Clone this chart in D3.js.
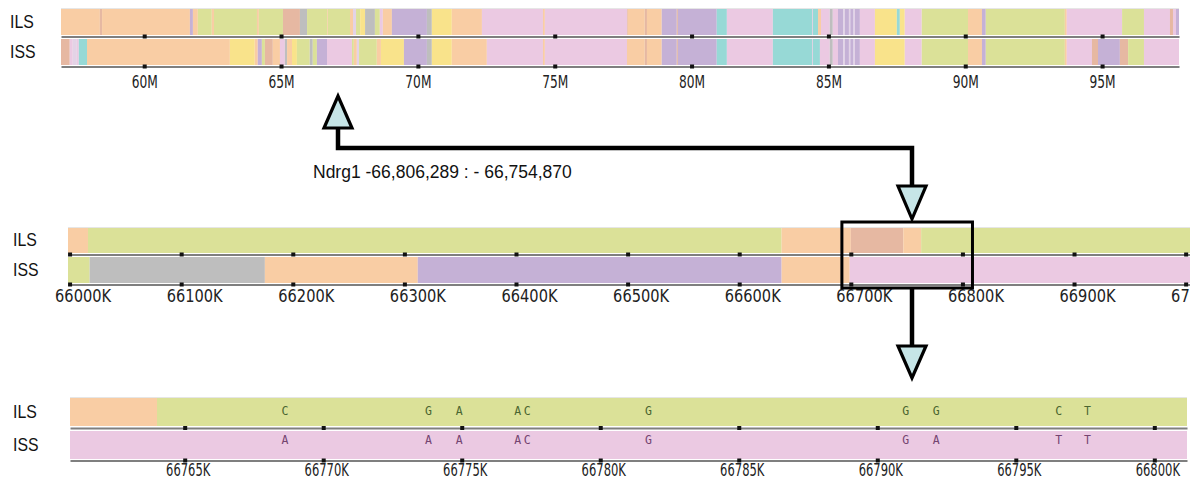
<!DOCTYPE html>
<html><head><meta charset="utf-8">
<script src="https://cdn.jsdelivr.net/npm/d3@7"></script>
<style>body{margin:0;background:#fff;overflow:hidden}svg{display:block}</style>
</head><body>
<svg id="chart" width="1190" height="481"></svg>
<script>
// ---------------- DATA ----------------
const rowNames = ["ILS", "ISS"];

// Top panel (Mb)
const topDomain = [56.96, 97.81];
const topTicks = [60, 65, 70, 75, 80, 85, 90, 95];
const topILS = [
 [56.96,58.38,"peach"],[58.38,58.46,"salmon"],[58.46,61.67,"peach"],[61.67,61.78,"purple"],
 [61.78,61.96,"peach"],[61.96,62.47,"green"],[62.47,62.55,"peach"],[62.55,64.12,"green"],
 [64.12,64.19,"peach"],[64.19,65.07,"green"],[65.07,65.69,"salmon"],[65.69,65.95,"gray"],
 [65.95,66.68,"green"],[66.68,66.71,"peach"],[66.71,67.52,"green"],[67.52,67.63,"peach"],
 [67.63,67.74,"lpink"],[67.74,67.89,"green"],[67.89,68.07,"yellow"],[68.07,68.43,"gray"],
 [68.43,68.61,"green"],[68.61,68.72,"pink"],[68.72,69.05,"peach"],[69.05,70.33,"purple"],
 [70.33,70.51,"gray"],[70.51,71.24,"yellow"],[71.24,72.34,"peach"],[72.34,74.57,"pink"],
 [74.57,74.64,"peach"],[74.64,77.64,"pink"],[77.64,77.67,"salmon"],[77.67,78.29,"peach"],
 [78.29,78.37,"salmon"],[78.37,78.91,"peach"],[78.91,79.46,"purple"],[79.46,79.50,"salmon"],
 [79.50,80.92,"purple"],[80.92,81.29,"teal"],[81.29,82.97,"pink"],[82.97,84.40,"teal"],
 [84.40,84.43,"pink"],[84.43,84.62,"teal"],[84.62,84.73,"peach"],[84.73,85.05,"pink"],
 [85.05,85.16,"gray"],[85.16,85.35,"pink"],[85.35,85.55,"purple"],[85.55,85.60,"lpink"],
 [85.60,85.75,"purple"],[85.75,85.80,"lpink"],[85.80,85.92,"purple"],[85.92,85.97,"lpink"],
 [85.97,86.15,"purple"],[86.15,86.70,"pink"],[86.70,87.50,"yellow"],[87.50,87.61,"teal"],
 [87.61,87.79,"yellow"],[87.79,88.41,"pink"],[88.41,90.10,"green"],[90.10,90.61,"peach"],
 [90.61,90.75,"purple"],[90.75,93.64,"green"],[93.64,93.71,"peach"],[93.71,95.73,"pink"],
 [95.73,96.53,"green"],[96.53,97.48,"pink"],[97.48,97.59,"salmon"],[97.59,97.70,"pink"],
 [97.70,97.81,"purple"]
];
const topISS = [
 [56.96,57.28,"salmon"],[57.28,57.39,"pink"],[57.39,57.54,"lpink"],[57.54,57.61,"pink"],
 [57.61,57.91,"teal"],[57.91,63.13,"peach"],[63.13,64.04,"yellow"],[64.04,64.15,"peach"],
 [64.15,64.30,"purple"],[64.30,64.41,"green"],[64.41,64.70,"salmon"],[64.70,64.96,"peach"],
 [64.96,65.14,"pink"],[65.14,65.22,"gray"],[65.22,65.40,"peach"],[65.40,65.58,"yellow"],
 [65.58,66.05,"green"],[66.05,66.16,"gray"],[66.16,66.31,"green"],[66.31,66.68,"purple"],
 [66.68,67.59,"pink"],[67.59,67.66,"green"],[67.66,67.77,"peach"],[67.77,67.85,"lpink"],
 [67.85,68.50,"green"],[68.50,68.65,"peach"],[68.65,69.49,"yellow"],[69.49,70.33,"purple"],
 [70.33,70.51,"gray"],[70.51,71.24,"yellow"],[71.24,72.52,"peach"],[72.52,74.57,"pink"],
 [74.57,74.64,"peach"],[74.64,77.64,"pink"],[77.64,78.29,"peach"],[78.29,78.37,"salmon"],
 [78.37,78.91,"peach"],[78.91,79.46,"purple"],[79.46,79.50,"salmon"],[79.50,80.92,"purple"],
 [80.92,81.29,"teal"],[81.29,82.97,"pink"],[82.97,84.40,"teal"],[84.40,84.43,"pink"],
 [84.43,84.69,"teal"],[84.69,85.05,"pink"],[85.05,85.16,"gray"],[85.16,85.35,"pink"],
 [85.35,85.55,"purple"],[85.55,85.60,"lpink"],[85.60,85.75,"purple"],[85.75,85.80,"lpink"],
 [85.80,85.92,"purple"],[85.92,85.97,"lpink"],[85.97,86.15,"purple"],[86.15,86.70,"pink"],
 [86.70,87.79,"yellow"],[87.79,88.41,"pink"],[88.41,90.10,"green"],[90.10,90.61,"peach"],
 [90.61,90.75,"purple"],[90.75,93.64,"green"],[93.64,93.71,"peach"],[93.71,94.63,"pink"],
 [94.63,94.85,"salmon"],[94.85,95.65,"purple"],[95.65,95.95,"salmon"],[95.95,96.53,"green"],
 [96.53,97.81,"pink"]
];

// Middle panel (Kb)
const midDomain = [65998.6, 67003.9];
const midTicks = [66000, 66100, 66200, 66300, 66400, 66500, 66600, 66700, 66800, 66900, 67000];
const midILS = [[65998.6,66016.5,"peach"],[66016.5,66638,"green"],[66638,66700,"peach"],
 [66700,66747,"salmon"],[66747,66763,"peach"],[66763,67010,"green"]];
const midISS = [[65998.6,66018,"green"],[66018,66175,"gray"],[66175,66312,"peach"],
 [66312,66638,"purple"],[66638,66699,"peach"],[66699,67010,"pink"]];
const zoomWindow = [66692, 66809];

// Bottom panel (Kb)
const botDomain = [66760.86, 66801.18];
const botTicks = [66765, 66770, 66775, 66780, 66785, 66790, 66795, 66800];
const botILS = [[66760.86,66764.0,"peach"],[66764.0,66801.18,"green"]];
const botISS = [[66760.86,66801.18,"pink"]];
const snpPos   = [66768.62, 66773.80, 66774.91, 66777.02, 66777.36, 66781.74, 66791.03, 66792.13, 66796.55, 66797.59];
const ilsBases = ["C","G","A","A","C","G","G","G","C","T"];
const issBases = ["A","A","A","A","C","G","G","A","T","T"];

const geneLabel = "Ndrg1 -66,806,289 : - 66,754,870";

// ---------------- STYLE ----------------
const palette = {
  peach:"#F9CDA4", green:"#DBE198", pink:"#EBC9E2", purple:"#C5B1D6", yellow:"#F9E38B",
  teal:"#97D9D6", salmon:"#E6B8A2", gray:"#BEBEBE", lpink:"#E3D3E6"
};
const svg = d3.select("#chart");

function panel(cfg) {
  const x = d3.scaleLinear().domain(cfg.domain).range(cfg.range);
  const g = svg.append("g");
  const w = cfg.range[1] - cfg.range[0];
  g.append("rect").attr("x", cfg.range[0]).attr("y", cfg.rows[0].y - 1)
    .attr("width", w).attr("height", 1).attr("fill", "#e6e6e6");
  cfg.rows.forEach((row, i) => {
    g.append("g").selectAll("rect").data(row.segs).join("rect")
      .attr("x", d => x(d[0]))
      .attr("width", d => Math.max(0.8, x(d[1]) - x(d[0])))
      .attr("y", row.y).attr("height", row.h)
      .attr("fill", d => palette[d[2]]);
    g.append("text").text(rowNames[i])
      .attr("transform", `translate(${cfg.nameX},${row.y + row.h / 2}) scale(0.88,1)`)
      .attr("dominant-baseline", "central")
      .attr("font-family", "Liberation Sans, Arial, sans-serif")
      .attr("font-size", 18).attr("fill", "#111");
    const last = i === cfg.rows.length - 1;
    const axis = d3.axisBottom(x).tickValues(cfg.ticks).tickSize(0).tickSizeOuter(0)
      .tickPadding(cfg.labelPad)
      .tickFormat(last ? cfg.fmt : "");
    const ag = g.append("g").attr("transform", `translate(0,${row.lineY})`).call(axis);
    ag.select(".domain").attr("stroke", "#7f7f7f").attr("stroke-width", 2.2);
    ag.selectAll(".tick").append("rect")
      .attr("x", -2).attr("y", -2).attr("width", 4).attr("height", 4).attr("fill", "#111");
    if (last) {
      ag.attr("font-family", "DejaVu Sans, sans-serif").attr("font-size", cfg.labelSize);
      ag.selectAll(".tick text").attr("fill", "#222")
        .attr("transform", `translate(${cfg.labelDx},0) scale(${cfg.labelSx},1)`);
    }
  });
  return x;
}

const xTop = panel({
  domain: topDomain, range: [61, 1179], ticks: topTicks, nameX: 10,
  fmt: d => d + "M", labelSize: 18.5, labelSx: 0.66, labelDx: 0, labelPad: 8,
  rows: [{segs: topILS, y: 9, h: 26, lineY: 36.5}, {segs: topISS, y: 39, h: 26, lineY: 66.5}]
});

const xMid = panel({
  domain: midDomain, range: [68, 1190], ticks: midTicks, nameX: 13,
  fmt: d => d + "K", labelSize: 17, labelSx: 0.86, labelDx: 13, labelPad: 5,
  rows: [{segs: midILS, y: 228, h: 25, lineY: 254.5}, {segs: midISS, y: 257, h: 26, lineY: 284.5}]
});

const xBot = panel({
  domain: botDomain, range: [70, 1187], ticks: botTicks, nameX: 13,
  fmt: d => d + "K", labelSize: 17.5, labelSx: 0.66, labelDx: 3, labelPad: 3,
  rows: [{segs: botILS, y: 398, h: 28, lineY: 428}, {segs: botISS, y: 431, h: 28, lineY: 460.5}]
});

// SNP letters
const snpRows = [{bases: ilsBases, y: 411, fill: "#4a6530"}, {bases: issBases, y: 440, fill: "#744470"}];
snpRows.forEach(r => {
  svg.append("g").selectAll("text").data(snpPos).join("text")
    .attr("x", d => xBot(d)).attr("y", r.y)
    .attr("text-anchor", "middle").attr("dominant-baseline", "central")
    .attr("font-family", "DejaVu Sans Mono, monospace").attr("font-size", 11.5)
    .attr("fill", r.fill).text((d, i) => r.bases[i]);
});

// Zoom window box on the middle panel
svg.append("rect")
  .attr("x", xMid(zoomWindow[0])).attr("y", 222)
  .attr("width", xMid(zoomWindow[1]) - xMid(zoomWindow[0])).attr("height", 66)
  .attr("fill", "none").attr("stroke", "#000").attr("stroke-width", 3);

// Connector arrows
const ann = svg.append("g");
const arrowFill = "#C6E5E7";
const upX = 338, downX = 912;
ann.append("path")
  .attr("d", `M${upX},126 V148 H${downX} V187`)
  .attr("fill", "none").attr("stroke", "#000").attr("stroke-width", 4.5);
ann.append("path")
  .attr("d", `M${downX},287 V347`)
  .attr("fill", "none").attr("stroke", "#000").attr("stroke-width", 4.5);
function tri(cx, yBase, yTip) {
  ann.append("path")
    .attr("d", `M${cx - 14},${yBase} L${cx + 14},${yBase} L${cx},${yTip} Z`)
    .attr("fill", arrowFill).attr("stroke", "#000").attr("stroke-width", 3.2)
    .attr("stroke-linejoin", "miter");
}
tri(upX, 128, 96);
tri(downX, 186, 219);
tri(downX, 346, 378);

ann.append("text").text(geneLabel)
  .attr("x", 313).attr("y", 178)
  .attr("font-family", "Liberation Sans, Arial, sans-serif")
  .attr("font-size", 17.5).attr("fill", "#111");
</script>
</body></html>
